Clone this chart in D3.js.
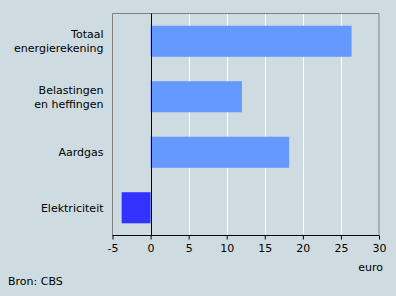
<!DOCTYPE html>
<html>
<head>
<meta charset="utf-8">
<style>
  body { margin: 0; background: #cedce1; }
  text { font-family: "DejaVu Sans", Verdana, sans-serif; font-size: 11px; fill: #000; }
</style>
<script src="https://d3js.org/d3.v7.min.js"></script>
</head>
<body>
<script>
// data
var categories = [["Totaal", "energierekening"], ["Belastingen", "en heffingen"], ["Aardgas"], ["Elektriciteit"]];
var values = [26.4, 12.0, 18.2, -3.8];
var barColors = ["#6699ff", "#6699ff", "#6699ff", "#3333ff"];
var xTicks = [-5, 0, 5, 10, 15, 20, 25, 30];

var w = 396, h = 296;
var mLeft = 112.5, mRight = 379, mTop = 13.5, mBottom = 235.5;

var svg = d3.select("body").append("svg")
    .attr("width", w)
    .attr("height", h);

svg.append("rect").attr("width", w).attr("height", h).attr("fill", "#cedce1");

var x = d3.scaleLinear().domain([-5, 30]).range([mLeft, mRight]);
var y = d3.scaleBand().domain(d3.range(categories.length)).range([mTop, mBottom]).paddingInner(0.44).paddingOuter(0.22);

// gridlines
svg.selectAll("line.grid")
    .data(xTicks.filter(function(d) { return d > 0 && d < 30; }))
    .enter().append("line")
    .attr("x1", function(d) { return Math.round(x(d)) + 0.5; })
    .attr("x2", function(d) { return Math.round(x(d)) + 0.5; })
    .attr("y1", mTop).attr("y2", mBottom)
    .attr("stroke", "#fff").attr("stroke-width", 1);

// frame (top, left, right)
svg.append("path")
    .attr("d", "M" + mLeft + "," + mBottom + "V" + mTop + "H" + mRight + "V" + mBottom)
    .attr("fill", "none").attr("stroke", "#808080");

// bars
svg.selectAll("rect.bar")
    .data(values)
    .enter().append("rect")
    .attr("x", function(d) { return x(Math.min(0, d)); })
    .attr("width", function(d) { return Math.abs(x(d) - x(0)); })
    .attr("y", function(d, i) { return y(i); })
    .attr("height", y.bandwidth())
    .attr("fill", function(d, i) { return barColors[i]; });

// zero line
svg.append("line")
    .attr("x1", Math.round(x(0)) + 0.5).attr("x2", Math.round(x(0)) + 0.5)
    .attr("y1", mTop).attr("y2", mBottom)
    .attr("stroke", "#000");

// x axis
var axis = svg.append("g")
    .attr("transform", "translate(0," + mBottom + ")")
    .call(d3.axisBottom(x).tickValues(xTicks).tickSize(4).tickPadding(5).tickFormat(function(d) { return String(d); }));
axis.select(".domain").attr("stroke", "#000").attr("d", "M" + mLeft + ",0H" + mRight);
axis.selectAll("text").style("font-family", "DejaVu Sans, Verdana, sans-serif").style("font-size", "11px");

// category labels
categories.forEach(function(lines, i) {
  var cy = y(i) + y.bandwidth() / 2 - (lines.length - 1) * 7;
  var t = svg.append("text").attr("text-anchor", "end");
  lines.forEach(function(s, j) {
    t.append("tspan").attr("x", 103.5).attr("y", cy + j * 14).attr("dy", "0.35em").text(s);
  });
});

svg.append("text").attr("x", 383).attr("y", 270.5).attr("text-anchor", "end").text("euro");
svg.append("text").attr("x", 8).attr("y", 284.5).text("Bron: CBS");
</script>
</body>
</html>
